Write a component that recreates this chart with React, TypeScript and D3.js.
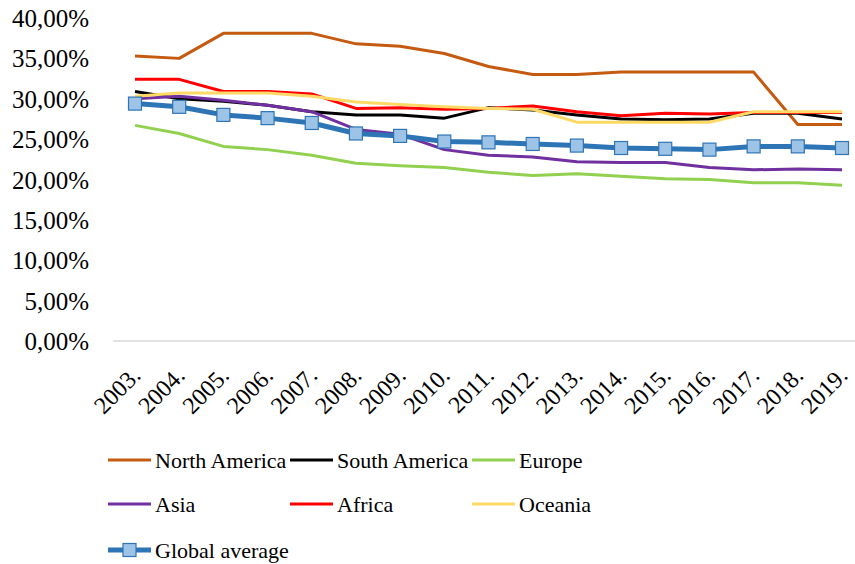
import React from "react";
import * as d3 from "d3";

const years = ["2003.", "2004.", "2005.", "2006.", "2007.", "2008.", "2009.", "2010.", "2011.", "2012.", "2013.", "2014.", "2015.", "2016.", "2017.", "2018.", "2019."];
const yTicks = [0, 0.05, 0.1, 0.15, 0.2, 0.25, 0.3, 0.35, 0.4];

const northAmerica = [35.3, 35.0, 38.1, 38.1, 38.1, 36.8, 36.5, 35.6, 34.0, 33.0, 33.0, 33.3, 33.3, 33.3, 33.3, 26.8, 26.8];
const southAmerica = [30.9, 30.0, 29.7, 29.2, 28.4, 28.0, 28.0, 27.6, 28.9, 28.6, 28.0, 27.5, 27.4, 27.5, 28.2, 28.2, 27.5];
const europe = [26.7, 25.7, 24.1, 23.7, 23.0, 22.0, 21.7, 21.5, 20.9, 20.5, 20.7, 20.4, 20.1, 20.0, 19.6, 19.6, 19.3];
const asia = [30.0, 30.3, 29.8, 29.2, 28.4, 26.2, 25.6, 23.7, 23.0, 22.8, 22.2, 22.1, 22.1, 21.5, 21.2, 21.3, 21.2];
const africa = [32.4, 32.4, 30.9, 30.9, 30.6, 28.8, 28.9, 28.7, 28.8, 29.1, 28.4, 27.9, 28.2, 28.1, 28.3, 28.3, 28.3];
const oceania = [30.3, 30.7, 30.7, 30.7, 30.3, 29.6, 29.3, 29.0, 28.8, 28.7, 27.1, 27.1, 27.1, 27.1, 28.4, 28.4, 28.4];
const globalAverage = [29.4, 29.0, 28.0, 27.6, 27.0, 25.7, 25.4, 24.7, 24.6, 24.4, 24.2, 23.9, 23.8, 23.7, 24.1, 24.1, 23.9];

const seriesNames = ["North America", "South America", "Europe", "Asia", "Africa", "Oceania", "Global average"];
const seriesValues = [northAmerica, southAmerica, europe, asia, africa, oceania, globalAverage];
const seriesColors = ["#C55A11", "#000000", "#92D050", "#7030A0", "#FF0000", "#FFD966", "#2E75B6"];

const FONT = "Times New Roman";

export default function App() {
  const x = d3.scalePoint<string>().domain(years).range([135, 842]);
  const y = d3.scaleLinear().domain([0, 0.4]).range([341, 18]);
  const line = d3.line<number>().x((_, i) => x(years[i]) as number).y((d) => y(d / 100));
  const fmt = (v: number) => (v * 100).toFixed(2).replace(".", ",") + "%";

  const legendPos = [
    [108, 460], [290, 460], [472, 460],
    [108, 504], [290, 504], [472, 504],
    [108, 550],
  ];

  return (
    <svg width={855} height={564} style={{ position: "absolute", left: 0, top: 0 }}>
      <line x1={113} x2={855} y1={y(0)} y2={y(0)} stroke="#D9D9D9" strokeWidth={1.5} />
      {yTicks.map((t) => (
        <text key={t} x={89} y={y(t)} dy="0.36em" textAnchor="end" fontSize={25} fontFamily={FONT}>
          {fmt(t)}
        </text>
      ))}
      {years.map((yr) => (
        <text
          key={yr}
          transform={`translate(${(x(yr) as number) + 7},${377}) rotate(-45)`}
          textAnchor="end"
          fontSize={24}
          fontFamily={FONT}
        >
          {yr}
        </text>
      ))}
      {seriesValues.map((vals, si) => (
        <path
          key={si}
          d={line(vals) || ""}
          fill="none"
          stroke={seriesColors[si]}
          strokeWidth={si === 6 ? 5 : 3}
          strokeLinejoin="round"
        />
      ))}
      {globalAverage.map((v, i) => (
        <rect
          key={i}
          x={(x(years[i]) as number) - 6.5}
          y={y(v / 100) - 6.5}
          width={13}
          height={13}
          fill="#9DC3E6"
          stroke="#2E75B6"
          strokeWidth={1.2}
        />
      ))}
      {seriesNames.map((name, si) => {
        const [lx, ly] = legendPos[si];
        return (
          <g key={name}>
            <line x1={lx} x2={lx + 43} y1={ly} y2={ly} stroke={seriesColors[si]} strokeWidth={si === 6 ? 5 : 3} />
            {si === 6 && (
              <rect x={lx + 15} y={ly - 6.5} width={13} height={13} fill="#9DC3E6" stroke="#2E75B6" strokeWidth={1.2} />
            )}
            <text x={lx + 47} y={ly} dy="0.35em" fontSize={22} fontFamily={FONT}>
              {name}
            </text>
          </g>
        );
      })}
    </svg>
  );
}
